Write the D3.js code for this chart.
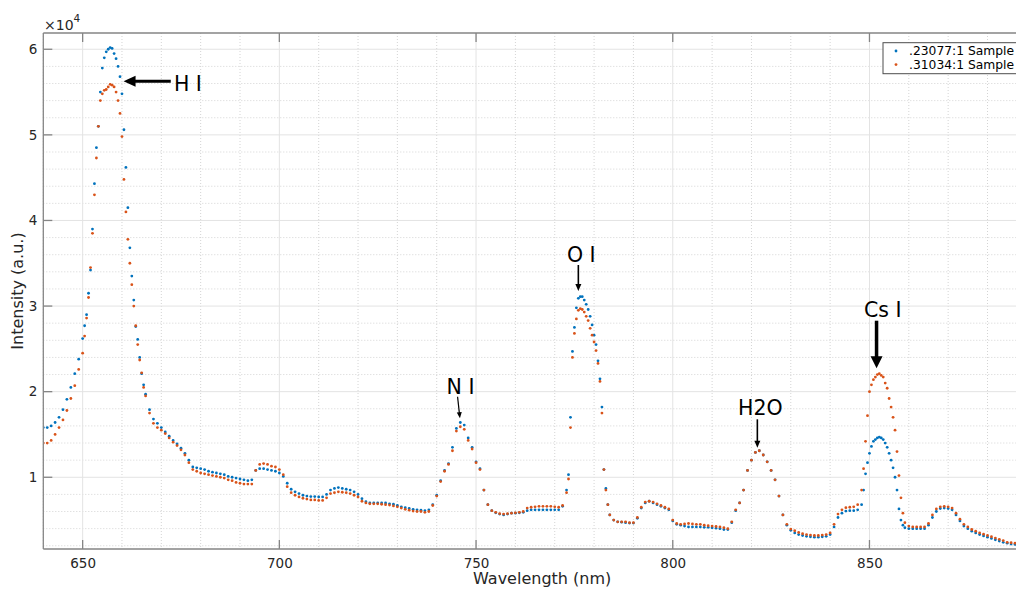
<!DOCTYPE html>
<html><head><meta charset="utf-8">
<script src="https://cdn.jsdelivr.net/npm/d3@7"></script>
<style>body{margin:0;background:#fff}svg{display:block;font-family:"DejaVu Sans",sans-serif}</style>
</head><body><svg id="c" width="1016" height="590"></svg>
<script>
const wavelength = [
640,641,642,643,644,645,646,647,648,649,
650,650.5,651,651.5,652,652.5,653,653.5,654,654.5,655,655.5,656,656.5,657,657.5,658,658.5,659,659.5,660,660.5,661,661.5,662,662.5,663,663.5,664,664.5,665,665.5,
666,667,668,669,670,671,672,673,674,675,676,677,678,679,680,681,682,683,684,685,686,687,688,689,690,691,692,693,694,695,696,697,698,699,700,
701,702,703,704,705,706,707,708,709,710,711,712,713,714,715,716,717,718,719,720,721,722,723,724,725,726,727,728,729,730,
731,732,733,734,735,736,737,738,739,740,741,742,743,744,745,746,747,748,749,750,751,752,753,754,755,756,757,758,759,760,761,762,
763,764,765,766,767,768,769,770,771,772,773,
773.5,774,774.5,775,775.5,776,776.5,777,777.5,778,778.5,779,779.5,780,780.5,781,781.5,782,782.5,783,783.5,
784,785,786,787,788,789,790,791,792,793,794,795,796,797,798,799,800,801,802,803,804,805,806,807,808,809,810,
811,812,813,814,815,816,817,818,819,820,821,822,823,824,825,826,827,828,829,830,831,832,833,834,835,836,837,838,839,840,841,842,843,844,845,846,847,
848,848.5,849,849.5,850,850.5,851,851.5,852,852.5,853,853.5,854,854.5,855,855.5,856,856.5,857,857.5,858,858.5,
859,860,861,862,863,864,865,866,867,868,869,870,871,872,873,874,875,876,877,878,879,880,881,882,883,884,885,886,887];

const sample23077 = [
15800,15800,16000,16400,17000,17900,19100,20500,22100,23800,
26200,27700,29000,31500,34200,39000,44300,48500,51000,55000,57800,59000,59700,60000,60200,60100,59500,58900,58000,56800,54800,50600,46200,41500,36800,33500,30700,27600,26100,24000,22100,20800,
19700,17900,16800,16300,15800,15300,14800,14300,13900,13400,12800,12000,11200,11100,11000,10900,10700,10600,10500,10400,10300,10100,10000,9900,9800,9700,9600,9700,10800,11000,11000,10900,10800,10700,10500,
10100,9300,8600,8300,8100,7900,7800,7750,7750,7700,7700,8000,8500,8700,8800,8700,8600,8500,8300,8000,7500,7150,7000,7000,7000,7000,7000,6900,6850,6700,
6550,6450,6350,6250,6200,6150,6100,6200,6800,7900,9600,10800,11600,13500,15700,16400,16100,14600,13500,11800,11000,8500,6800,6100,5850,5700,5600,5700,5800,5800,5850,5900,
6100,6200,6200,6200,6200,6200,6200,6200,6200,6600,8500,
10300,17000,24700,27500,29800,30900,31100,31100,30700,30200,29600,28800,27800,26600,25500,23600,21500,18200,10900,8700,6800,
5600,5000,4800,4750,4700,4650,4650,5200,6400,7000,7200,7000,6800,6600,6400,6200,4900,4500,4400,4300,4200,4200,4200,4200,4150,4150,4100,
4050,4000,3900,3900,4700,6100,7000,8500,10800,12000,12900,13100,12600,11800,10800,9700,7800,5600,4400,3800,3500,3300,3200,3100,3050,3000,3000,3050,3100,3300,4200,5300,5800,6050,6100,6100,6200,
6800,8500,10400,11700,12800,13600,14200,14400,14600,14700,14600,14400,14000,13500,12800,12000,11100,10000,8500,6300,5000,4400,
4100,4000,4000,4000,4000,4000,4400,5300,6000,6350,6400,6350,6200,5600,4900,4300,4000,3700,3500,3300,3150,3000,2850,2700,2550,2400,2300,2200,2150];

const sample31034 = [
14000,14000,14300,15000,15800,16700,17800,19200,20700,22600,
24500,26500,28600,31000,34500,38500,43000,47300,51000,54000,54800,55200,55300,55600,55900,55800,55600,55000,54000,52500,49800,44800,41000,37800,35000,32500,30000,27700,25500,23700,22200,20500,
19500,17500,16300,15800,15500,15100,14600,14100,13700,13200,12600,11700,10900,10700,10500,10400,10300,10200,10100,10000,9900,9700,9600,9400,9300,9200,9200,9200,10800,11500,11600,11500,11300,11200,10900,
10300,8900,8200,7900,7700,7550,7450,7350,7350,7300,7300,7600,8100,8200,8300,8250,8200,8100,7900,7700,7200,7000,6900,6900,6900,6850,6800,6750,6650,6550,
6400,6250,6150,6050,6000,6000,5900,6000,6700,7800,9500,10700,11500,13100,15400,15900,15600,14300,13300,11700,10900,8500,6800,6100,5900,5750,5700,5750,5800,5850,5900,6000,
6400,6500,6550,6600,6600,6600,6600,6550,6500,6700,8200,
9800,15800,24000,26800,28500,29500,29700,29600,29300,28800,28300,27400,26600,25800,24800,23300,21200,17500,10900,8500,6800,
5600,5000,4800,4800,4800,4700,4700,5300,6500,7100,7200,7100,6900,6700,6500,6300,5000,4600,4500,4550,4600,4550,4500,4500,4400,4350,4300,
4250,4200,4100,4000,4800,6200,7000,8500,10800,12000,12900,13100,12600,11800,10800,9700,7800,5600,4500,3950,3750,3550,3400,3300,3250,3200,3200,3250,3300,3500,4500,5700,6200,6450,6500,6550,6800,
8500,11000,14200,17200,20000,20800,21400,21700,22000,22100,21900,21700,21000,20400,19200,18200,17000,15500,13000,10200,7600,5800,
4700,4300,4200,4200,4200,4200,4600,5600,6300,6550,6600,6550,6400,5800,5100,4500,4200,3900,3700,3500,3350,3200,3050,2900,2750,2600,2400,2350,2300];

const seriesNames = [".23077:1 Sample", ".31034:1 Sample"];
const seriesColors = ["#0072BD", "#D95319"];
const xTicks = [650, 700, 750, 800, 850];
const yTicks = [10000, 20000, 30000, 40000, 50000, 60000];
const yTickLabels = ["1", "2", "3", "4", "5", "6"];

// annotations in data units: label, text x/y, arrow tail, arrow tip, style
const annLabels = ["H I", "N I", "O I", "H2O", "Cs I"];
const annTextX  = [673.2, 742.5, 773.1, 816.6, 848.6];
const annTextY  = [55180, 19690, 35180, 17270, 28760];
const annTail   = [[672.4,56260],[745.3,19410],[776.0,34800],[821.5,16770],[851.8,28290]];
const annTip    = [[660.4,56260],[745.9,16890],[776.0,31760],[821.5,13450],[851.8,22730]];
const annWeight = [3, 1.2, 1.6, 1.6, 3.5];
const annHead   = [[12,11],[6,5],[7,6],[7,6],[12,12]];

const svg = d3.select("#c");
const L = 43.3, R = 1041, T = 33, B = 549;
const x = d3.scaleLinear().domain([640, 893.6]).range([L, R]);
const y = d3.scaleLinear().domain([1620, 61900]).range([B, T]);

svg.append("clipPath").attr("id","pc").append("rect")
  .attr("x",L).attr("y",T).attr("width",R-L).attr("height",B-T);

// minor grid
const g = svg.append("g");
d3.range(640, 894, 10).filter(v => v % 50 !== 0).forEach(v => {
  g.append("line").attr("x1",x(v)).attr("x2",x(v)).attr("y1",T).attr("y2",B)
   .attr("stroke","#d4d4d4").attr("stroke-width",1).attr("stroke-dasharray","1,2");
});
d3.range(2000, 62000, 2000).filter(v => v % 10000 !== 0).forEach(v => {
  g.append("line").attr("x1",L).attr("x2",R).attr("y1",y(v)).attr("y2",y(v))
   .attr("stroke","#d4d4d4").attr("stroke-width",1).attr("stroke-dasharray","1,2");
});
// major grid
xTicks.forEach(v => g.append("line").attr("x1",x(v)).attr("x2",x(v)).attr("y1",T).attr("y2",B)
   .attr("stroke","#e3e3e3").attr("stroke-width",1));
yTicks.forEach(v => g.append("line").attr("x1",L).attr("x2",R).attr("y1",y(v)).attr("y2",y(v))
   .attr("stroke","#e3e3e3").attr("stroke-width",1));

// data points
const series = [sample23077, sample31034];
const pts = svg.append("g").attr("clip-path","url(#pc)");
series.forEach((s, i) => {
  pts.append("g").selectAll("circle").data(s).join("circle")
    .attr("cx", (d, j) => x(wavelength[j]))
    .attr("cy", d => y(d))
    .attr("r", 1.4)
    .attr("fill", seriesColors[i]);
});

// axes box
const axc = "#858585";
const ax = svg.append("g");
const bottomAxis = d3.axisBottom(x).tickValues(xTicks).tickSize(0).tickPadding(9).tickFormat(d3.format("d"));
const ga = ax.append("g").attr("transform",`translate(0,${B})`).call(bottomAxis);
ga.select(".domain").remove();
ga.selectAll("text").attr("fill","#262626").attr("font-size","13.5px").attr("font-family","DejaVu Sans");
const leftAxis = d3.axisLeft(y).tickValues(yTicks).tickSize(0).tickPadding(6).tickFormat((d,i)=>yTickLabels[i]);
const gl = ax.append("g").attr("transform",`translate(${L},0)`).call(leftAxis);
gl.select(".domain").remove();
gl.selectAll("text").attr("fill","#262626").attr("font-size","13.5px").attr("font-family","DejaVu Sans");

ax.append("line").attr("x1",L).attr("x2",R).attr("y1",B).attr("y2",B).attr("stroke",axc).attr("stroke-width",1.3);
ax.append("line").attr("x1",L).attr("x2",R).attr("y1",T).attr("y2",T).attr("stroke",axc).attr("stroke-width",1.3);
ax.append("line").attr("x1",L).attr("x2",L).attr("y1",T).attr("y2",B).attr("stroke",axc).attr("stroke-width",1.3);
const tl = 9;
xTicks.forEach(v => {
  ax.append("line").attr("x1",x(v)).attr("x2",x(v)).attr("y1",B).attr("y2",B-tl).attr("stroke",axc).attr("stroke-width",1.3);
  ax.append("line").attr("x1",x(v)).attr("x2",x(v)).attr("y1",T).attr("y2",T+tl).attr("stroke",axc).attr("stroke-width",1.3);
});
yTicks.forEach(v => {
  ax.append("line").attr("x1",L).attr("x2",L+tl).attr("y1",y(v)).attr("y2",y(v)).attr("stroke",axc).attr("stroke-width",1.3);
});

// exponent label
const ex = svg.append("text").attr("x",44).attr("y",29.5).attr("fill","#262626").attr("font-size","14px");
ex.append("tspan").text("\u00d710");
ex.append("tspan").attr("dy",-8).attr("font-size","10.5px").text("4");

// axis labels
svg.append("text").attr("x",(L+R)/2).attr("y",584).attr("text-anchor","middle")
  .attr("fill","#262626").attr("font-size","16px").text("Wavelength (nm)");
svg.append("text").attr("transform",`translate(23,${(T+B)/2}) rotate(-90)`).attr("text-anchor","middle")
  .attr("fill","#262626").attr("font-size","16px").text("Intensity (a.u.)");

// annotations
const an = svg.append("g");
annLabels.forEach((lab, i) => {
  an.append("text").attr("x", x(annTextX[i])).attr("y", y(annTextY[i]))
    .attr("font-size","20.5px").attr("fill","#000").text(lab);
  const x1 = x(annTail[i][0]), y1 = y(annTail[i][1]);
  const x2 = x(annTip[i][0]), y2 = y(annTip[i][1]);
  const dx = x2-x1, dy = y2-y1, len = Math.hypot(dx,dy);
  const ux = dx/len, uy = dy/len;
  const hl = annHead[i][0], hw = annHead[i][1];
  const bx = x2 - ux*hl, by = y2 - uy*hl;
  an.append("line").attr("x1",x1).attr("y1",y1).attr("x2",bx+ux*1).attr("y2",by+uy*1)
    .attr("stroke","#000").attr("stroke-width",annWeight[i]);
  an.append("path").attr("d",`M${x2},${y2} L${bx - uy*hw/2},${by + ux*hw/2} L${bx + uy*hw/2},${by - ux*hw/2} Z`)
    .attr("fill","#000");
});

// legend
const lg = svg.append("g");
lg.append("rect").attr("x",883).attr("y",42.7).attr("width",150).attr("height",31)
  .attr("fill","#fff").attr("stroke","#4d4d4d").attr("stroke-width",1);
seriesNames.forEach((nm, i) => {
  const yy = 51 + i*13.6;
  lg.append("circle").attr("cx",896).attr("cy",yy).attr("r",1.4).attr("fill",seriesColors[i]);
  lg.append("text").attr("x",909).attr("y",yy).attr("dy","0.35em").attr("font-size","12.3px")
    .attr("fill","#000").text(nm);
});
</script></body></html>
